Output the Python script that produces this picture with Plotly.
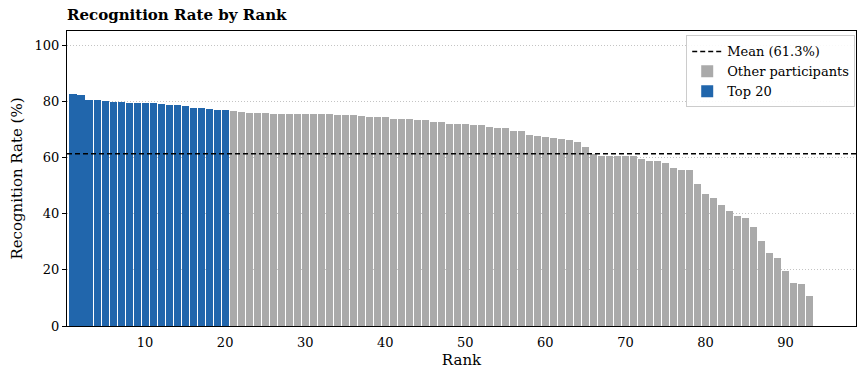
import plotly.graph_objects as go

ranks = list(range(1, 94))
rates = [
    82.6, 82.3, 80.5, 80.5, 80.1, 79.8, 79.8, 79.4, 79.4, 79.4,
    79.4, 79.0, 78.7, 78.7, 78.3, 77.6, 77.6, 77.2, 76.9, 76.8,
    76.4, 76.1, 75.7, 75.7, 75.7, 75.4, 75.4, 75.4, 75.4, 75.4,
    75.4, 75.4, 75.4, 75.0, 75.0, 75.0, 74.6, 74.3, 74.3, 74.3,
    73.6, 73.6, 73.6, 73.2, 73.2, 72.5, 72.5, 71.8, 71.8, 71.8,
    71.4, 71.4, 70.7, 70.4, 70.4, 69.3, 69.3, 67.9, 67.5, 67.1,
    66.8, 66.4, 66.1, 65.4, 63.6, 61.4, 60.4, 60.4, 60.4, 60.4,
    60.4, 59.6, 58.9, 58.9, 57.9, 56.1, 55.7, 55.4, 50.4, 47.1,
    45.7, 43.2, 41.1, 39.3, 38.6, 35.4, 30.4, 26.1, 24.3, 19.6,
    15.4, 15.0, 10.7,
]
mean_rate = 61.3
top_n = 20
x_ticks = [10, 20, 30, 40, 50, 60, 70, 80, 90]
y_ticks = [0, 20, 40, 60, 80, 100]

BLUE = "#2166ac"
GRAY = "#aaaaaa"
FONT = "DejaVu Serif"
MEAN_DASH = "5px,3px"

fig = go.Figure()
fig.add_trace(go.Scatter(
    x=[None], y=[None], mode="lines", name=f"Mean ({mean_rate}%)",
    line=dict(color="black", dash=MEAN_DASH, width=1.5),
))
fig.add_trace(go.Bar(
    x=ranks[top_n:], y=rates[top_n:], name="Other participants",
    marker=dict(color=GRAY, line=dict(width=0)), width=0.88,
))
fig.add_trace(go.Bar(
    x=ranks[:top_n], y=rates[:top_n], name="Top 20",
    marker=dict(color=BLUE, line=dict(width=0)), width=0.88,
))
fig.add_hline(y=mean_rate, line=dict(color="black", dash=MEAN_DASH, width=1.5), layer="above")

fig.update_layout(
    width=857, height=369,
    margin=dict(l=67, r=1, t=31, b=43, autoexpand=False),
    paper_bgcolor="white", plot_bgcolor="white",
    font=dict(family=FONT, size=13, color="black"),
    title=dict(text="<b>Recognition Rate by Rank</b>", x=0, xref="paper",
               xanchor="left", y=0.945, yanchor="bottom", yref="container",
               font=dict(family=FONT, size=15, color="black")),
    showlegend=True,
    legend=dict(x=0.999, y=0.985, xanchor="right", yanchor="top",
                bgcolor="rgba(255,255,255,0.9)", bordercolor="#cccccc", borderwidth=1,
                font=dict(family=FONT, size=13), traceorder="normal",
                itemwidth=30, tracegroupgap=0),
    bargap=0,
)
fig.update_xaxes(
    range=[0.25, 98.8], tickvals=x_ticks, showgrid=False, zeroline=False,
    showline=True, linecolor="black", linewidth=1.2, mirror=True,
    ticks="", automargin=False, ticklabelstandoff=4,
    title=dict(text="Rank", font=dict(size=15), standoff=6),
)
fig.update_yaxes(
    range=[0, 105], tickvals=y_ticks, showgrid=True, gridcolor="#c4c4c4",
    griddash="1px,2px", gridwidth=1, zeroline=False,
    showline=True, linecolor="black", linewidth=1.2, mirror=True,
    ticks="outside", ticklen=4, tickcolor="black", automargin=False,
    title=dict(text="Recognition Rate (%)", font=dict(size=15), standoff=8),
)

fig.write_html(
    "out.html",
    config={"displayModeBar": False},
    post_script="document.body.style.margin='0';document.body.style.overflow='hidden';",
)
